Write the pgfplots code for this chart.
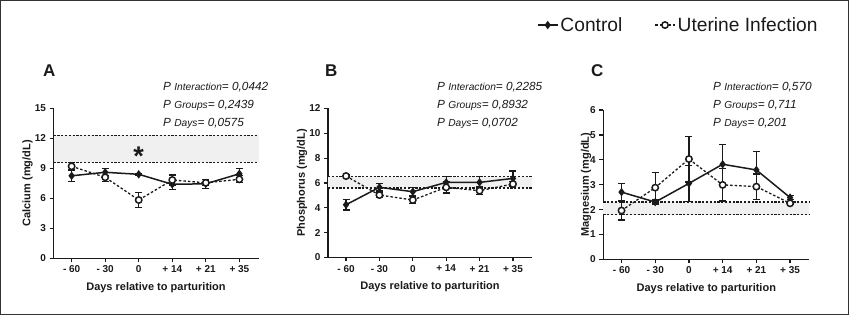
\documentclass[border=0pt]{standalone}
\usepackage{fontspec}
\setmainfont{Liberation Sans}
\usepackage{pgfplots}
\pgfplotsset{compat=1.18}
\usepackage{pgfplotstable}

\pgfplotstableread{
x y e
0 8.25 0.60
1 8.60 0.35
2 8.40 0.10
3 7.40 0.50
4 7.45 0.45
5 8.45 0.50
}\CaCtrl
\pgfplotstableread{
x y e
0 9.20 0.40
1 8.10 0.45
2 5.83 0.73
3 7.83 0.50
4 7.55 0.30
5 7.90 0.35
}\CaInf
\pgfplotstableread{
x y e
0 4.25 0.43
1 5.65 0.30
2 5.30 0.35
3 6.05 0.45
4 6.05 0.45
5 6.37 0.60
}\PCtrl
\pgfplotstableread{
x y e
0 6.56 0.08
1 5.03 0.22
2 4.63 0.27
3 5.65 0.45
4 5.38 0.30
5 5.92 0.20
}\PInf
\pgfplotstableread{
x y e
0 2.70 0.35
1 2.30 0.08
2 3.05 0.73
3 3.82 0.80
4 3.59 0.74
5 2.48 0.08
}\MgCtrl
\pgfplotstableread{
x y e
0 1.96 0.38
1 2.88 0.60
2 4.03 0.92
3 2.99 0.65
4 2.92 0.51
5 2.25 0.05
}\MgInf

\definecolor{ink}{HTML}{1A1A1A}
\definecolor{band}{HTML}{F0F0F0}

\pgfplotsset{
  panel/.style={
    scale only axis, anchor=south west,
    xmin=-0.54, xmax=5.57,
    axis lines=left, axis line style={-, line width=1.3pt, ink},
    tick align=outside, major tick length=4pt,
    tick style={line width=1.3pt, ink},
    xtick={0,...,5}, xticklabels={- 60,- 30,0,+ 14,+ 21,+ 35},
    ticklabel style={font=\bfseries\fontsize{10}{12}\selectfont, text=ink},
    /pgf/number format/assume math mode=true,
    xlabel={Days relative to parturition},
    xlabel style={font=\bfseries\fontsize{11}{13}\selectfont, text=ink,
      at={(axis description cs:0.5,-0.195)}, anchor=center},
    ylabel style={font=\bfseries\fontsize{11}{13}\selectfont, text=ink, anchor=center},
    clip=false,
    legend image code/.code={\draw[mark repeat=2,mark phase=2,##1] plot coordinates {(0pt,0pt) (10pt,0pt) (20pt,0pt)};},
  },
  ctrl/.style={ink, line width=1.5pt, mark=diamond*, mark size=3pt,
    mark options={solid, fill=ink},
    error bars/.cd, y dir=both, y explicit,
    error bar style={line width=1.2pt, solid, ink},
    error mark options={rotate=90, mark size=3.5pt, line width=1.2pt, ink}},
  inf/.style={ink, line width=1.3pt, dash pattern=on 2.5pt off 2pt,
    mark=*, mark size=3.2pt, mark options={solid, fill=white, line width=1.5pt},
    error bars/.cd, y dir=both, y explicit,
    error bar style={line width=1.2pt, solid, ink},
    error mark options={rotate=90, mark size=3.5pt, line width=1.2pt, ink}},
  refl/.style={ink, line width=1.4pt, dash pattern=on 2.2pt off 1.6pt, forget plot},
}
\tikzset{pnode/.style={anchor=base west, inner sep=0pt, text=ink, font=\itshape\fontsize{11.8}{14}\selectfont}}

\newcommand{\sm}[1]{{\fontsize{10.2}{12}\selectfont #1}}

\begin{document}
\begin{tikzpicture}
\useasboundingbox (0pt,0pt) rectangle (850pt,318pt);
\draw[line width=1pt, black!80] (0.5pt,3pt) rectangle (848pt,317.5pt);

% ---------- Panel A ----------
\begin{axis}[panel, at={(53.5pt,59.7pt)}, width=205pt, height=150pt,
  ymin=0, ymax=15, ytick={0,3,...,15},
  ylabel={Calcium (mg/dL)}, ylabel style={at={(axis description cs:-0.126,0.5)}}]
\addplot[draw=none, fill=band, forget plot] coordinates {(-0.54,9.6) (5.57,9.6) (5.57,12.3) (-0.54,12.3)} -- cycle;
\addplot[refl] coordinates {(-0.54,12.3) (5.57,12.3)};
\addplot[refl] coordinates {(-0.54,9.6) (5.57,9.6)};
\addplot[ctrl] table[x=x, y=y, y error=e] {\CaCtrl};
\addplot[inf] table[x=x, y=y, y error=e] {\CaInf};
\node[font=\bfseries\fontsize{27}{28}\selectfont, text=ink, anchor=base] at (axis cs:2,9.3) {*};
\end{axis}

% ---------- Panel B ----------
\begin{axis}[panel, at={(328pt,60.5pt)}, width=204pt, height=149pt,
  ymin=0, ymax=12, ytick={0,2,...,12},
  ylabel={Phosphorus (mg/dL)}, ylabel style={at={(axis description cs:-0.127,0.5)}}]
\addplot[draw=none, fill=band, forget plot] coordinates {(-0.54,5.6) (5.57,5.6) (5.57,6.5) (-0.54,6.5)} -- cycle;
\addplot[refl] coordinates {(-0.54,6.5) (5.57,6.5)};
\addplot[refl] coordinates {(-0.54,5.6) (5.57,5.6)};
\addplot[ctrl] table[x=x, y=y, y error=e] {\PCtrl};
\addplot[inf] table[x=x, y=y, y error=e] {\PInf};
\end{axis}

% ---------- Panel C ----------
\begin{axis}[panel, at={(603.3pt,58.7pt)}, width=206pt, height=149.3pt,
  ymin=0, ymax=6, ytick={0,...,6},
  ylabel={Magnesium (mg/dL)}, ylabel style={at={(axis description cs:-0.084,0.5)}},
  legend columns=2,
  legend style={draw=none, fill=none, inner sep=0pt, outer sep=0pt,
    at={(axis description cs:-0.322,1.569)}, anchor=west,
    font=\fontsize{19.2}{22}\selectfont, text=ink,
    /tikz/every even column/.append style={column sep=30pt}}]
\addplot[draw=none, fill=band, forget plot] coordinates {(-0.54,1.8) (5.57,1.8) (5.57,2.3) (-0.54,2.3)} -- cycle;
\addplot[refl] coordinates {(-0.54,2.3) (5.57,2.3)};
\addplot[refl] coordinates {(-0.54,1.8) (5.57,1.8)};
\addplot[ctrl] table[x=x, y=y, y error=e] {\MgCtrl};
\addplot[inf] table[x=x, y=y, y error=e] {\MgInf};
\legend{Control, Uterine Infection}
\end{axis}

% ---------- Panel letters & statistics ----------
\begin{scope}[every node/.style={anchor=base west, inner sep=0pt, text=ink}]
\node[font=\bfseries\fontsize{17}{20}\selectfont] at (43pt,241.3pt) {A};
\node[font=\bfseries\fontsize{17}{20}\selectfont] at (325pt,241.3pt) {B};
\node[font=\bfseries\fontsize{17}{20}\selectfont] at (591pt,241.3pt) {C};
\end{scope}

\node[pnode] at (163pt,227.5pt) {P \sm{Interaction}= 0,0442};
\node[pnode] at (163pt,209.7pt) {P \sm{Groups}= 0,2439};
\node[pnode] at (163pt,191.5pt) {P \sm{Days}= 0,0575};

\node[pnode] at (437pt,227.5pt) {P \sm{Interaction}= 0,2285};
\node[pnode] at (437pt,209.7pt) {P \sm{Groups}= 0,8932};
\node[pnode] at (437pt,191.5pt) {P \sm{Days}= 0,0702};

\node[pnode] at (713pt,227.5pt) {P \sm{Interaction}= 0,570};
\node[pnode] at (713pt,209.7pt) {P \sm{Groups}= 0,711};
\node[pnode] at (713pt,191.5pt) {P \sm{Days}= 0,201};
\end{tikzpicture}
\end{document}
